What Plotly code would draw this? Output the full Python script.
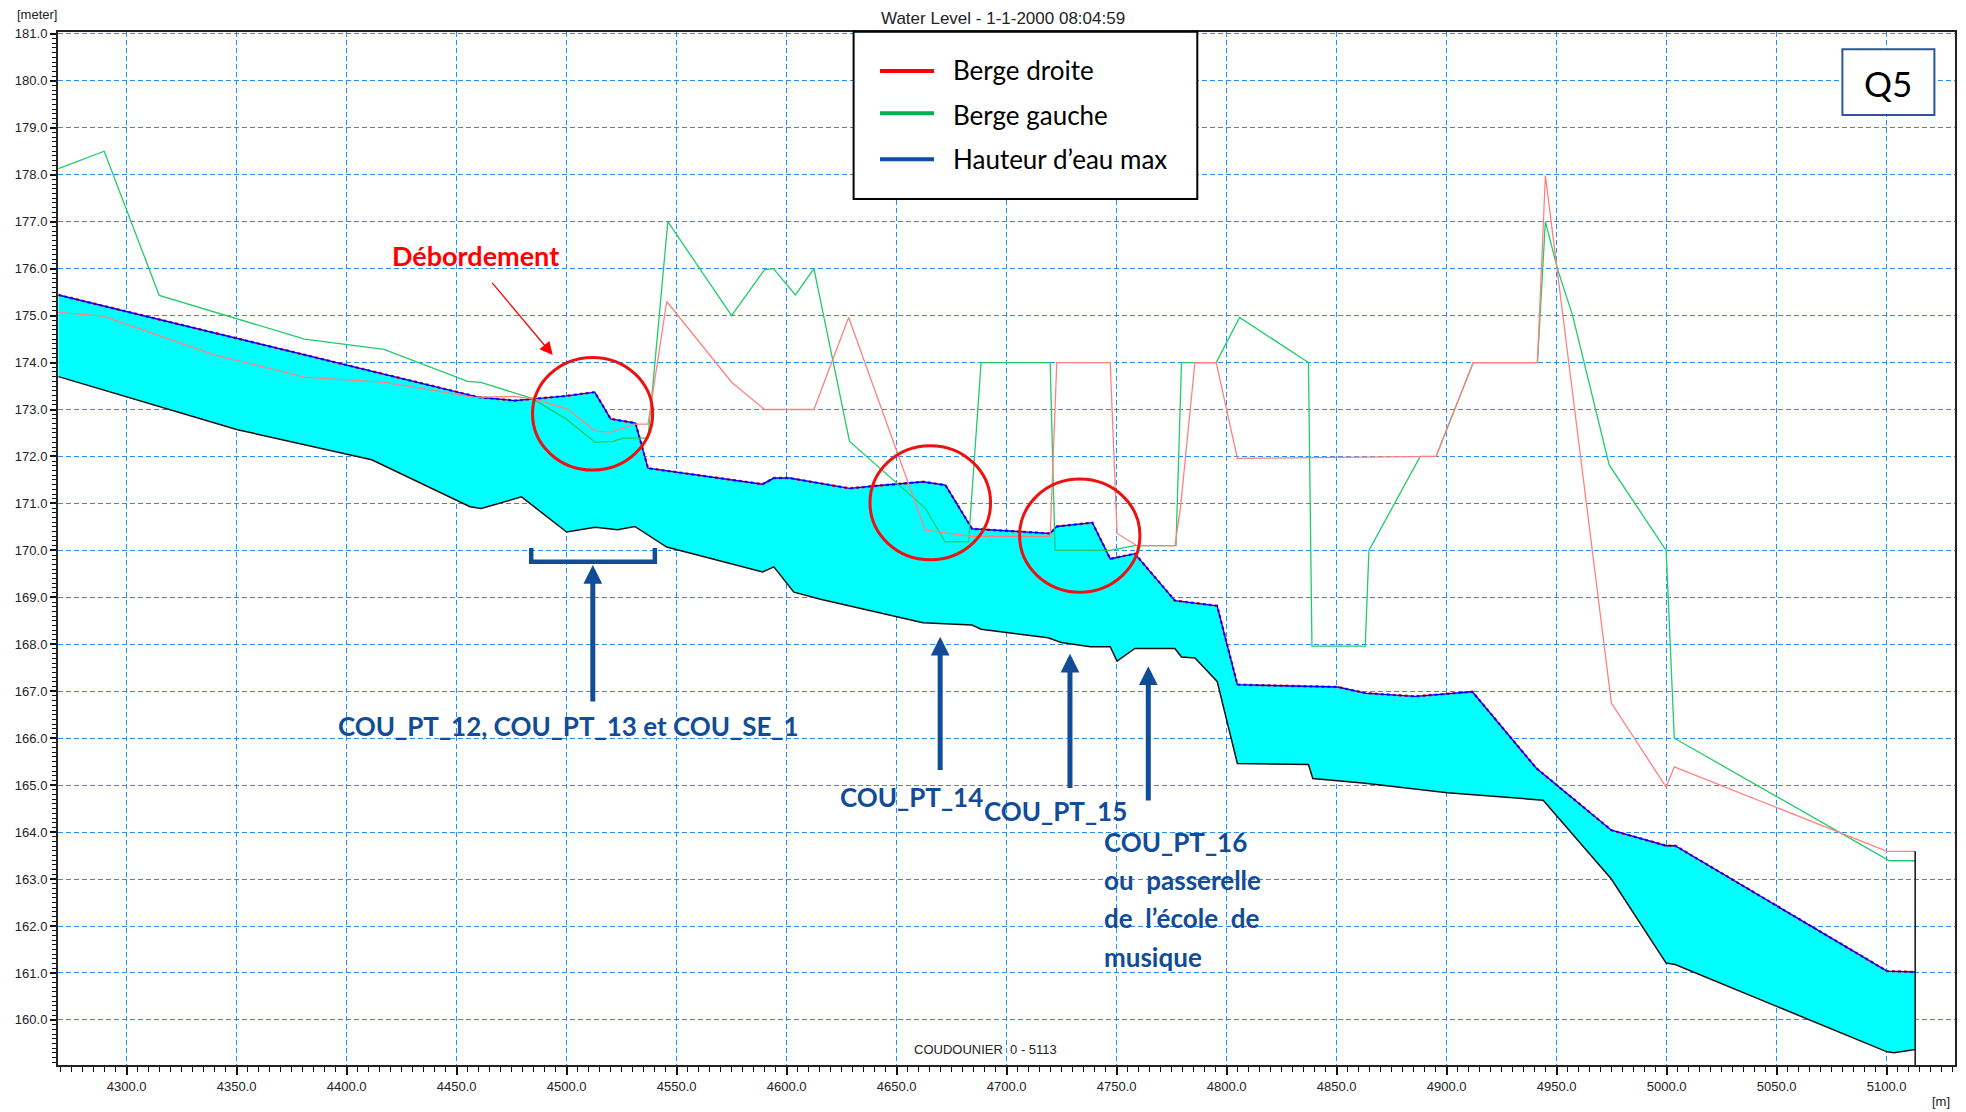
import plotly.graph_objects as go

# ---- Longitudinal profile of the Coudounier reach (chainage in m, elevation in m) ----
# River bed
bed_x = [4269, 4350.4, 4411.4, 4456.1, 4461.2, 4479.5, 4500.0, 4513.0, 4523.2, 4531.0,
         4545.5, 4589.1, 4594.2, 4603.3, 4615.4, 4662.0, 4684.3, 4688.4, 4718.8, 4724.9,
         4738.1, 4747.1, 4750.2, 4758.3, 4776.5, 4779.5, 4785.6, 4795.7, 4804.9, 4837.2,
         4839.2, 4863.0, 4900.3, 4943.9, 4974.9, 4999.8, 5003.9, 5100.2, 5103.4, 5113.0]
bed_z = [173.70, 172.57, 171.93, 170.93, 170.89, 171.14, 170.39, 170.49, 170.44, 170.51,
         170.07, 169.54, 169.65, 169.11, 168.96, 168.46, 168.41, 168.32, 168.14, 168.04,
         167.95, 167.95, 167.64, 167.91, 167.91, 167.73, 167.71, 167.21, 165.46, 165.44,
         165.14, 165.04, 164.84, 164.68, 163.00, 161.21, 161.18, 159.32, 159.30, 159.37]

# Maximum water level
wl_x = [4269, 4460.2, 4476.4, 4486.6, 4500.0, 4512.8, 4520.0, 4531.3, 4537.0, 4589.1,
        4594.2, 4601.3, 4628.6, 4639.7, 4662.0, 4672.2, 4684.3, 4719.8, 4722.8, 4739.0,
        4747.1, 4758.3, 4776.5, 4795.7, 4804.9, 4850.6, 4863.0, 4885.8, 4900.3, 4911.7,
        4940.8, 4974.9, 4999.8, 5003.9, 5100.2, 5113.0]
wl_z = [175.44, 173.26, 173.19, 173.24, 173.29, 173.37, 172.80, 172.71, 171.75, 171.41,
        171.54, 171.54, 171.32, 171.37, 171.46, 171.39, 170.46, 170.36, 170.51, 170.59,
        169.82, 169.93, 168.93, 168.82, 167.14, 167.09, 166.96, 166.89, 166.95, 166.99,
        165.36, 164.04, 163.71, 163.71, 161.04, 161.02]

# Right bank (Berge droite)
rb_x = [4269, 4289.4, 4340.2, 4380.9, 4417.5, 4458.1, 4476.4, 4486.6, 4500.8, 4513.0,
        4520.0, 4531.3, 4537.0, 4545.5, 4575.0, 4590.0, 4612.4, 4628.2, 4663.0, 4684.0,
        4719.8, 4722.8, 4747.1, 4750.2, 4759.3, 4776.5, 4779.0, 4785.6, 4795.3, 4804.9,
        4895.2, 4912.1, 4941.3, 4944.9, 4974.9, 4999.8, 5003.5, 5100.2, 5113.0]
rb_z = [175.07, 174.99, 174.16, 173.69, 173.58, 173.26, 173.28, 173.21, 173.00, 172.54,
        172.52, 172.69, 172.69, 175.30, 173.58, 173.00, 173.00, 174.96, 170.43, 170.30,
        170.30, 174.00, 174.00, 170.36, 170.10, 170.10, 170.90, 174.00, 174.00, 171.96,
        172.00, 174.00, 174.00, 177.98, 166.75, 164.96, 165.39, 163.59, 163.59]

# Left bank (Berge gauche)
lb_x = [4269, 4289.8, 4314.8, 4348.4, 4380.9, 4417.0, 4455.0, 4461.0, 4484.6, 4500.0,
        4513.0, 4521.0, 4526.0, 4537.0, 4546.0, 4575.0, 4590.0, 4594.0, 4604.0, 4612.4,
        4628.6, 4663.0, 4672.0, 4682.7, 4688.4, 4719.8, 4722.0, 4747.0, 4758.3, 4777.0,
        4779.5, 4795.3, 4805.9, 4837.2, 4838.8, 4863.0, 4864.7, 4888.0, 4895.2, 4912.1,
        4941.3, 4944.9, 4950.5, 4957.3, 4973.9, 4999.8, 5003.5, 5101.3, 5113.0]
lb_z = [178.13, 178.50, 175.43, 174.96, 174.50, 174.28, 173.60, 173.58, 173.23, 172.79,
        172.30, 172.32, 172.39, 172.39, 177.00, 175.00, 175.98, 176.00, 175.44, 176.00,
        172.32, 170.90, 170.18, 170.18, 174.00, 174.00, 170.00, 170.00, 170.10, 170.10,
        174.00, 174.00, 174.96, 174.00, 167.96, 167.96, 170.00, 172.00, 172.00, 174.00,
        174.00, 177.00, 175.98, 175.00, 171.82, 170.00, 166.00, 163.39, 163.39]

reach_end = 5113.0
x_range = [4268.8, 5131.1]
y_range = [159.04, 181.04]

# ---- Page geometry ----
W, H = 1966, 1112
M = dict(l=58, r=11, t=32, b=47, pad=0)


def px(x):
    """Pixel column -> paper x."""
    return (x - M["l"]) / (W - M["l"] - M["r"])


def py(y):
    """Pixel row -> paper y."""
    return 1 - (y - M["t"]) / (H - M["t"] - M["b"])


BLUE_TXT = "#114C98"
NOTE_FONT = "Lato, 'Open Sans', sans-serif"
UI_FONT = "'Liberation Sans', Arial, sans-serif"

fig = go.Figure()

# Wetted area between bed and water level
fig.add_trace(go.Scatter(
    x=wl_x + bed_x[::-1], y=wl_z + bed_z[::-1],
    fill="toself", fillcolor="#00FFFF", mode="lines",
    line=dict(width=0, color="#00FFFF"), hoverinfo="skip", showlegend=False))

# Bed
fig.add_trace(go.Scatter(x=bed_x, y=bed_z, mode="lines",
                         line=dict(color="#111111", width=1.5), showlegend=False))
# Water level: red dotted trace under the blue line
fig.add_trace(go.Scatter(x=wl_x, y=wl_z, mode="lines",
                         line=dict(color="#FF0000", width=2.4, dash="dot"), showlegend=False))
fig.add_trace(go.Scatter(x=wl_x, y=wl_z, mode="lines", name="Hauteur d’eau max",
                         line=dict(color="#0000FF", width=1.4), showlegend=False))
# Banks
fig.add_trace(go.Scatter(x=lb_x, y=lb_z, mode="lines", name="Berge gauche",
                         line=dict(color="#1FCB6A", width=1.3), showlegend=False))
fig.add_trace(go.Scatter(x=rb_x, y=rb_z, mode="lines", name="Berge droite",
                         line=dict(color="#FF8080", width=1.3), showlegend=False))
# Downstream end of the reach
fig.add_trace(go.Scatter(x=[reach_end, reach_end], y=[y_range[0], rb_z[-1]], mode="lines",
                         line=dict(color="#111111", width=1.5), showlegend=False))

grid = dict(showgrid=True, gridcolor="rgb(30,144,255)", gridwidth=1.4, griddash="5px,3px")

fig.update_xaxes(
    range=x_range, tick0=4300, dtick=50, tickformat=".1f",
    ticks="outside", ticklen=8, tickwidth=1.5, tickcolor="#111111",
    minor=dict(dtick=5, tick0=4300, ticks="outside", ticklen=5, tickwidth=1,
               tickcolor="#111111", showgrid=False),
    showline=True, linecolor="#222222", linewidth=2, mirror=True,
    zeroline=False, automargin=False,
    tickfont=dict(family=UI_FONT, size=13, color="#222222"),
    **grid)
fig.update_yaxes(
    range=y_range, tick0=160, dtick=1, tickformat=".1f",
    ticks="outside", ticklen=6, tickwidth=1.5, tickcolor="#111111",
    minor=dict(dtick=0.1, tick0=160, ticks="outside", ticklen=4, tickwidth=1,
               tickcolor="#111111", showgrid=False),
    showline=True, linecolor="#222222", linewidth=2, mirror=True,
    zeroline=False, automargin=False,
    tickfont=dict(family=UI_FONT, size=13, color="#222222"),
    **grid)

shapes = []
annotations = []

# Overflow locations
for x0, x1, y0, y1 in [(4484.5, 4539.1, 171.71, 174.11),
                       (4637.9, 4692.7, 169.80, 172.23),
                       (4705.9, 4760.6, 169.11, 171.52)]:
    shapes.append(dict(type="circle", xref="x", yref="y", x0=x0, x1=x1, y0=y0, y1=y1,
                       line=dict(color="#EE1111", width=3)))

# Bracket over the structures COU_PT_12 / COU_PT_13 / COU_SE_1
shapes.append(dict(type="path", xref="x", yref="y",
                   path="M 4483.9,170.05 L 4483.9,169.76 L 4540.1,169.76 L 4540.1,170.05",
                   line=dict(color=BLUE_TXT, width=4.5)))

# Legend box
shapes.append(dict(type="rect", xref="paper", yref="paper",
                   x0=px(853.6), x1=px(1197.3), y0=py(199), y1=py(31.7),
                   fillcolor="white", line=dict(color="black", width=2)))
for ypix, col in [(71, "#FF0000"), (113.3, "#00B050"), (159.3, "#0B4EA2")]:
    shapes.append(dict(type="line", xref="paper", yref="paper",
                       x0=px(880), x1=px(934), y0=py(ypix), y1=py(ypix),
                       line=dict(color=col, width=4)))
for ypix, label in [(70, "Berge droite"), (115, "Berge gauche"), (159, "Hauteur d’eau max")]:
    annotations.append(dict(xref="paper", yref="paper", x=px(951), y=py(ypix),
                            xanchor="left", yanchor="middle", showarrow=False, text=label,
                            font=dict(family=NOTE_FONT, size=26, color="black")))

# Q5 box
shapes.append(dict(type="rect", xref="paper", yref="paper",
                   x0=px(1842.4), x1=px(1934.4), y0=py(115), y1=py(49.3),
                   fillcolor="white", line=dict(color="#2F5597", width=2)))
annotations.append(dict(xref="paper", yref="paper", x=px(1888.4), y=py(83),
                        xanchor="center", yanchor="middle", showarrow=False, text="Q5",
                        font=dict(family=NOTE_FONT, size=35, color="black")))

# Overflow note
annotations.append(dict(xref="x", yref="y", x=4458.6, y=176.29, showarrow=False,
                        text="<b>Débordement</b>", xanchor="center", yanchor="middle",
                        font=dict(family=NOTE_FONT, size=27, color="#FF0000")))
annotations.append(dict(xref="x", yref="y", axref="x", ayref="y",
                        x=4493.7, y=174.16, ax=4465.6, ay=175.73, text="",
                        showarrow=True, arrowhead=2, arrowsize=2, arrowwidth=1.3,
                        arrowcolor="#FF0000"))

# Structure arrows
for x, ytip, ytail in [(4511.9, 169.69, 166.75), (4669.8, 168.16, 165.29),
                       (4728.8, 167.80, 164.91), (4764.4, 167.53, 164.64)]:
    annotations.append(dict(xref="x", yref="y", axref="x", ayref="y",
                            x=x, y=ytip, ax=x, ay=ytail, text="",
                            showarrow=True, arrowhead=2, arrowsize=0.75, arrowwidth=5,
                            arrowcolor=BLUE_TXT))

# Structure labels
for x, y, label in [(4395.1, 166.26, "COU_PT_12, COU_PT_13 et COU_SE_1"),
                    (4623.4, 164.75, "COU_PT_14"),
                    (4688.7, 164.45, "COU_PT_15"),
                    (4743.4, 163.79, "COU_PT_16"),
                    (4743.4, 162.98, "ou\u00a0\u00a0passerelle"),
                    (4743.4, 162.17, "de\u00a0\u00a0l’école\u00a0\u00a0de"),
                    (4743.4, 161.35, "musique")]:
    annotations.append(dict(xref="x", yref="y", x=x, y=y, showarrow=False,
                            text=f"<b>{label}</b>", xanchor="left", yanchor="middle",
                            font=dict(family=NOTE_FONT, size=26, color=BLUE_TXT)))

# Chart captions
annotations.append(dict(xref="paper", yref="paper", x=px(1003), y=py(19), showarrow=False,
                        text="Water Level - 1-1-2000 08:04:59", xanchor="center",
                        yanchor="middle", font=dict(family=UI_FONT, size=17, color="#222222")))
annotations.append(dict(xref="paper", yref="paper", x=px(15), y=py(15), showarrow=False,
                        text="[meter]", xanchor="left", yanchor="middle",
                        font=dict(family=UI_FONT, size=13, color="#222222")))
annotations.append(dict(xref="paper", yref="paper", x=px(1952), y=py(1101), showarrow=False,
                        text="[m]", xanchor="right", yanchor="middle",
                        font=dict(family=UI_FONT, size=13, color="#222222")))
annotations.append(dict(xref="x", yref="y", x=4690.2, y=159.38, showarrow=False,
                        text="COUDOUNIER\u00a0\u00a00 - 5113", xanchor="center", yanchor="middle",
                        font=dict(family=UI_FONT, size=13, color="#222222")))

fig.update_layout(
    width=W, height=H, autosize=False, margin=M,
    template="none",
    plot_bgcolor="white", paper_bgcolor="white",
    showlegend=False,
    shapes=shapes, annotations=annotations,
)

fig.write_html("out.html")
